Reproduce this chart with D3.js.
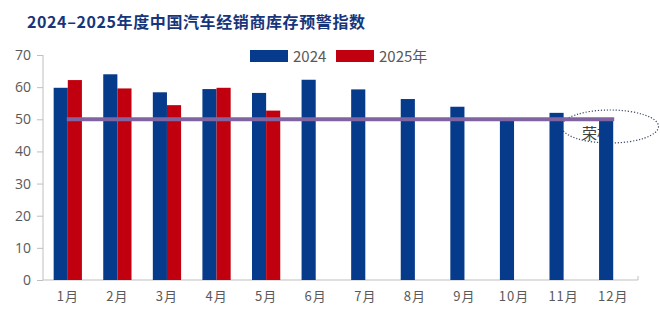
<!DOCTYPE html>
<html><head><meta charset="utf-8">
<script src="https://cdn.jsdelivr.net/npm/d3@7"></script>
<style>body{margin:0;background:#fff}svg{display:block}</style>
</head><body>
<script>
const months = ["1月","2月","3月","4月","5月","6月","7月","8月","9月","10月","11月","12月"];
const values2024 = [59.8,64.0,58.4,59.4,58.2,62.3,59.3,56.3,53.9,50.2,52.0,49.8];
const values2025 = [62.2,59.6,54.4,59.8,52.7];
const yTicks = [0,10,20,30,40,50,60,70];
const warningLine = 50;
const seriesNames = ["2024","2025年"];
const titleText = "2024–2025年度中国汽车经销商库存预警指数";
const annotText = "荣枯";

const W=660,H=335;
const svg=d3.select("body").append("svg").attr("width",W).attr("height",H);
const x=d3.scaleBand().domain(months).range([43,638]).padding(0);
const y=d3.scaleLinear().domain([0,70]).range([280,55]);
const blue="#063a8a", red="#c1000f", purple="#8064a2", gray="#595959";
const bw=x.bandwidth()*0.285;

svg.append("text").attr("x",27).attr("y",28).text(titleText)
  .attr("font-family","'Noto Sans CJK SC'").attr("font-weight","bold").attr("font-size",16)
  .attr("fill","#17357a").attr("letter-spacing",0.6);

// y axis
const ya=svg.append("g").attr("transform","translate(43,0)").call(d3.axisLeft(y).tickValues(yTicks).tickSize(6).tickPadding(6));
ya.select(".domain").attr("stroke","#bfbfbf").attr("d","M0,55V280");
ya.selectAll(".tick line").attr("stroke","#bfbfbf");
ya.selectAll("text").attr("font-family","'Open Sans'").attr("font-size",14).attr("fill",gray);

// x axis
const xa=svg.append("g").attr("transform","translate(0,280)").call(d3.axisBottom(x).tickSize(0).tickPadding(12));
xa.select(".domain").attr("stroke","#bfbfbf").attr("d","M43,0H638V-4");
xa.selectAll("text").attr("font-family","'Noto Sans CJK SC'").attr("font-size",13).attr("fill",gray).attr("letter-spacing",1);

// annotation under bars
const cx=610, cy=126.5;
svg.append("ellipse").attr("cx",cx).attr("cy",cy).attr("rx",48.5).attr("ry",16.5)
  .attr("fill","none").attr("stroke","#3a4a66").attr("stroke-width",1.2).attr("stroke-dasharray","1.2,1.8");
svg.append("text").attr("x",582).attr("y",139).text(annotText)
  .attr("font-family","'Noto Sans CJK SC'").attr("font-size",15).attr("fill","#404040");

// bars
const c=x.bandwidth()/2;
svg.append("g").selectAll("rect").data(values2024).join("rect")
  .attr("x",(d,i)=>x(months[i])+c-bw).attr("width",bw)
  .attr("y",d=>y(d)).attr("height",d=>y(0)-y(d)).attr("fill",blue);
svg.append("g").selectAll("rect").data(values2025).join("rect")
  .attr("x",(d,i)=>x(months[i])+c).attr("width",bw)
  .attr("y",d=>y(d)).attr("height",d=>y(0)-y(d)).attr("fill",red);

// warning line
svg.append("line").attr("x1",x(months[0])+c-1).attr("x2",x(months[11])+c+1)
  .attr("y1",y(warningLine)).attr("y2",y(warningLine)).attr("stroke",purple).attr("stroke-width",4);

// legend
const lg=[{n:seriesNames[0],c:blue,x:250},{n:seriesNames[1],c:red,x:336}];
lg.forEach(l=>{
  svg.append("rect").attr("x",l.x).attr("y",50).attr("width",38).attr("height",12).attr("fill",l.c);
  svg.append("text").attr("x",l.x+43).attr("y",62).text(l.n).attr("font-family","'Noto Sans CJK SC'")
    .attr("font-size",15).attr("fill",gray);
});
</script>
</body></html>
